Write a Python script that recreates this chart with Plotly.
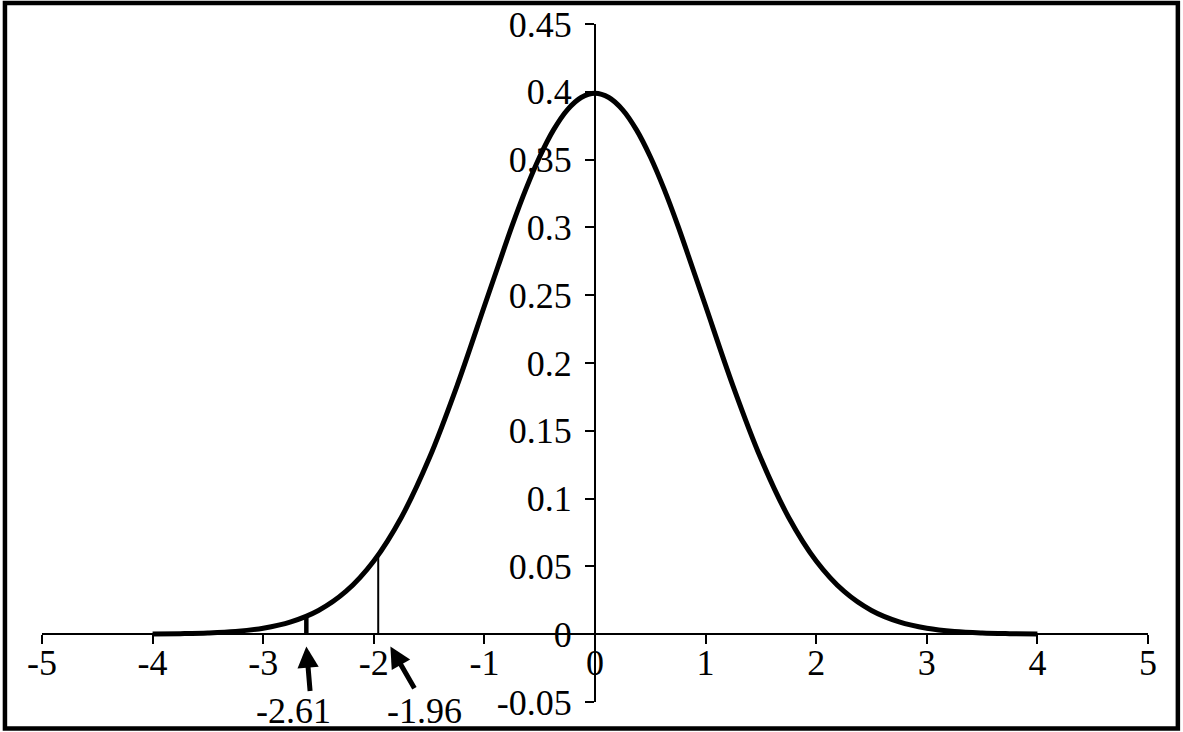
import plotly.graph_objects as go

# density curve
z_vals = [-4.0, -3.75, -3.5, -3.25, -3.0, -2.75, -2.5, -2.25, -2.0, -1.75, -1.5, -1.25, -1.0,
          -0.875, -0.75, -0.625, -0.5, -0.375, -0.25, -0.125, 0.0, 0.125, 0.25, 0.375, 0.5,
          0.625, 0.75, 0.875, 1.0, 1.25, 1.5, 1.75, 2.0, 2.25, 2.5,
          2.75, 3.0, 3.25, 3.5, 3.75, 4.0]
density = [0.0001, 0.0004, 0.0009, 0.0020, 0.0044, 0.0091, 0.0175, 0.0317, 0.0540, 0.0863,
           0.1295, 0.1826, 0.2420, 0.2717, 0.3011, 0.3282, 0.3521, 0.3719, 0.3867, 0.3958,
           0.3989, 0.3958, 0.3867, 0.3719, 0.3521, 0.3282, 0.3011, 0.2717,
           0.2420, 0.1826, 0.1295, 0.0863, 0.0540, 0.0317, 0.0175, 0.0091, 0.0044, 0.0020,
           0.0009, 0.0004, 0.0001]

# critical values and curve heights there
crit_x = [-2.61, -1.96]
crit_y = [0.0132, 0.0584]
crit_labels = ["-2.61", "-1.96"]

x_ticks = [-5, -4, -3, -2, -1, 0, 1, 2, 3, 4, 5]
x_ticktext = ["-5", "-4", "-3", "-2", "-1", "0", "1", "2", "3", "4", "5"]
y_ticks = [-0.05, 0, 0.05, 0.1, 0.15, 0.2, 0.25, 0.3, 0.35, 0.4, 0.45]
y_ticktext = ["-0.05", "0", "0.05", "0.1", "0.15", "0.2", "0.25", "0.3", "0.35", "0.4", "0.45"]

font = dict(family="Liberation Serif, Times New Roman, serif", size=36, color="black")

fig = go.Figure()
fig.add_trace(go.Scatter(x=z_vals, y=density, mode="lines",
                         line=dict(color="black", width=5, shape="spline"),
                         showlegend=False, hoverinfo="skip"))

# vertical markers at the critical values
for xv, yv, w in zip(crit_x, crit_y, [4.5, 2]):
    fig.add_trace(go.Scatter(x=[xv, xv], y=[0, yv], mode="lines",
                             line=dict(color="black", width=w),
                             showlegend=False, hoverinfo="skip"))

# arrows (tip, tail) and labels below the axis
arrow_tip = [(-2.61, -0.009), (-1.85, -0.009)]
arrow_tail = [(-2.575, -0.043), (-1.625, -0.041)]
label_x = [-2.73, -1.54]
for (tx, ty), (ax, ay), lx, txt in zip(arrow_tip, arrow_tail, label_x, crit_labels):
    fig.add_annotation(x=tx, y=ty, ax=ax, ay=ay, xref="x", yref="y", axref="x", ayref="y",
                       text="", showarrow=True, arrowhead=2, arrowsize=0.85,
                       arrowwidth=5, arrowcolor="black")
    fig.add_annotation(x=lx, y=-0.013, xref="x", yref="paper", text=txt, showarrow=False,
                       font=font, yanchor="middle")

# outer frame
fig.add_shape(type="rect", xref="paper", yref="paper",
              x0=-0.0335, x1=1.027, y0=-0.039, y1=1.031,
              line=dict(color="black", width=4.5))

fig.update_layout(
    width=1183, height=732,
    margin=dict(l=42, r=35, t=24, b=30),
    paper_bgcolor="white", plot_bgcolor="white",
    font=font,
    xaxis=dict(range=[-5, 5], tickvals=x_ticks, ticktext=x_ticktext, automargin=False,
               anchor="free", position=0.1, showgrid=False, zeroline=False,
               showline=True, linecolor="black", linewidth=2, ticklabelstandoff=-12,
               ticks="outside", ticklen=9, tickwidth=2, tickcolor="black"),
    yaxis=dict(range=[-0.05, 0.45], tickvals=y_ticks, ticktext=y_ticktext, automargin=False,
               anchor="free", position=0.5, showgrid=False, zeroline=False,
               showline=True, linecolor="black", linewidth=2, ticklabelstandoff=6,
               ticks="outside", ticklen=9, tickwidth=2, tickcolor="black"),
)

# drop the default page margin so the figure sits at the window's corner
fig.write_html("out.html", config={"displayModeBar": False},
               post_script="document.body.style.margin='0';")
